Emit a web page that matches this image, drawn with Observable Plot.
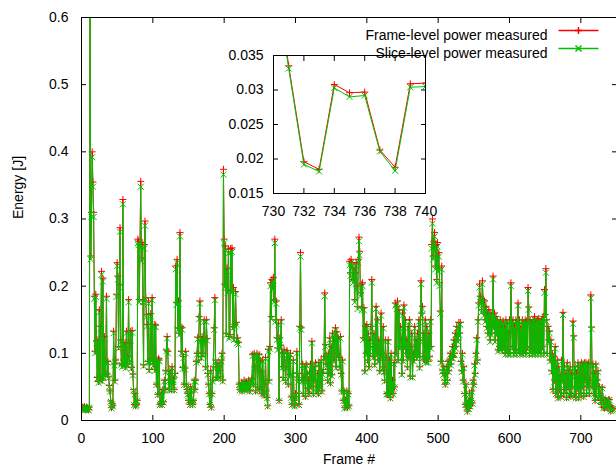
<!DOCTYPE html>
<html><head><meta charset="utf-8">
<script src="https://cdn.jsdelivr.net/npm/d3@7"></script>
<script src="https://cdn.jsdelivr.net/npm/@observablehq/plot@0.6"></script>
<style>
body{margin:0;background:#fff;}
#wrap{position:relative;width:616px;height:471px;overflow:hidden;font-family:"Liberation Sans",Arial,sans-serif;}
#wrap svg{position:absolute;}
</style></head><body><div id="wrap"></div>
<script>
// Energy per frame, in millijoules (index = frame number)
const frameLevel_mJ = [
18,20,17,19,21,16,18,20,19,17,
16,20,650,245,310,400,355,310,185,103,
188,118,64,120,58,165,62,140,222,60,
212,66,125,70,88,185,69,88,65,52,
44,29,19,25,22,133,84,60,90,188,
235,215,110,203,287,120,85,82,329,90,
84,116,80,133,84,95,180,88,115,133,
79,134,69,46,24,40,22,24,30,270,
267,180,262,356,242,265,180,83,262,297,
183,158,143,88,178,76,88,159,92,183,
88,84,143,76,142,54,90,39,92,90,
24,26,40,24,46,28,60,46,74,105,
125,103,60,46,74,60,46,80,54,62,
46,70,230,176,240,138,178,130,280,140,
103,138,79,95,54,78,103,54,46,40,
30,40,24,50,46,28,24,30,60,46,
60,88,100,124,90,155,178,120,95,125,
100,118,150,120,80,150,122,70,54,40,
24,74,20,40,60,80,138,183,90,64,
84,64,80,86,74,66,90,100,60,374,
270,203,260,130,227,194,255,125,128,256,
194,257,140,198,123,143,192,146,118,123,
116,54,46,50,56,44,54,48,60,46,
52,58,46,54,60,50,44,56,60,62,
98,54,100,80,44,96,100,50,90,98,
46,88,72,40,90,60,38,54,94,44,
34,22,106,60,110,205,155,210,200,213,
180,270,150,178,123,108,145,30,123,112,
150,80,100,64,106,90,60,80,104,100,
54,95,68,100,35,24,70,90,30,22,
40,35,103,70,60,24,140,250,138,60,
84,40,64,80,36,84,70,48,60,40,
72,84,50,118,64,40,80,60,86,50,
44,70,40,86,50,60,90,44,70,76,
95,190,113,84,96,60,100,70,123,56,
110,68,130,118,90,125,138,80,132,100,
123,94,80,125,70,44,90,30,44,19,
30,22,44,20,40,22,237,220,240,235,
215,210,228,180,220,235,200,170,240,273,
252,190,203,168,205,123,168,74,140,100,
143,90,130,80,120,100,140,210,110,95,
130,84,110,170,100,150,90,120,74,98,
160,100,80,140,74,60,120,94,40,40,
120,39,90,34,100,44,60,40,86,50,
175,100,170,178,90,165,110,140,120,70,
160,90,172,110,150,100,120,80,140,94,
150,66,110,130,66,100,90,140,100,120,
94,130,100,150,80,120,208,160,170,95,
130,90,150,88,140,110,88,130,95,150,
110,262,300,245,267,280,230,262,210,265,
227,250,205,163,88,230,75,70,80,60,
54,70,80,60,88,74,90,100,84,95,
110,94,120,100,130,110,140,125,120,146,
130,146,88,74,100,60,80,40,24,54,
20,14,30,18,40,22,30,44,26,60,
54,84,70,100,123,90,150,175,203,185,
180,165,208,180,160,178,150,170,140,160,
130,165,150,120,160,130,145,215,140,160,
120,155,130,150,105,145,110,150,108,140,
105,148,110,140,100,150,105,145,100,130,
150,100,205,145,110,150,100,140,105,150,
100,145,175,105,150,100,140,103,150,100,
145,105,150,100,148,110,198,169,100,150,
105,145,100,150,103,155,100,148,105,150,
100,152,105,145,100,150,110,155,100,195,
158,226,150,100,140,120,133,90,120,74,
100,46,95,60,110,40,74,90,34,80,
46,68,36,90,60,161,40,80,46,70,
34,86,50,74,40,80,36,68,50,148,
126,40,80,34,70,48,86,34,60,80,
40,86,50,84,36,86,60,86,40,84,
50,86,40,60,187,139,50,84,40,70,
30,84,40,60,74,34,50,40,30,24,
49,33.5,19.6,18.5,30.8,29.6,29.7,21.3,18.8,30.9,31.0,
22,14,20,16,18
];
const sliceLevel_mJ = [
17,19,16,18,20,15,17,19,18,16,
15,19,640,240,303,392,348,303,181,100,
184,115,62,117,56,161,60,137,217,58,
207,64,122,68,86,181,67,86,63,50,
43,28,18,24,21,130,82,58,88,184,
230,210,107,198,281,117,83,80,322,88,
82,113,78,130,82,93,176,86,112,130,
77,131,67,45,23,39,21,23,29,264,
261,176,256,348,237,259,176,81,256,290,
179,154,140,86,174,74,86,155,90,179,
86,82,140,74,139,53,88,38,90,88,
23,25,39,23,45,27,58,45,72,103,
122,100,58,45,72,58,45,78,53,60,
45,68,225,172,235,135,174,127,274,137,
100,135,77,93,53,76,100,53,45,39,
29,39,23,49,45,27,23,29,58,45,
58,86,98,121,88,151,174,117,93,122,
98,115,147,117,78,147,119,68,53,39,
23,72,19,39,58,78,135,179,88,62,
82,62,78,84,72,64,88,98,58,366,
264,198,254,127,222,190,249,122,125,250,
190,251,137,194,120,140,188,143,115,120,
113,53,45,49,55,43,53,47,58,45,
51,56,45,53,58,49,43,55,58,60,
96,53,98,78,43,94,98,49,88,96,
45,86,70,39,88,58,37,53,92,43,
33,21,103,58,107,200,151,205,195,208,
176,264,147,174,120,105,142,29,120,109,
147,78,98,62,103,88,58,78,101,98,
53,93,66,98,34,23,68,88,29,21,
39,34,100,68,58,23,137,244,135,58,
82,39,62,78,35,82,68,47,58,39,
70,82,49,115,62,39,78,58,84,49,
43,68,39,84,49,58,88,43,68,74,
93,185,110,82,94,58,98,68,120,55,
107,66,127,115,88,122,135,78,129,98,
120,92,78,122,68,43,88,29,43,18,
29,21,43,19,39,21,231,215,235,230,
210,205,223,176,215,230,195,166,235,267,
246,185,198,164,200,120,164,72,137,98,
140,88,127,78,117,98,137,205,107,93,
127,82,107,166,98,147,88,117,72,96,
156,98,78,137,72,58,117,92,39,39,
117,38,88,33,98,43,58,39,84,49,
171,98,166,174,88,161,107,137,117,68,
156,88,168,107,147,98,117,78,137,92,
147,64,107,127,64,98,88,137,98,117,
92,127,98,147,78,117,203,156,166,93,
127,88,147,86,137,107,86,127,93,147,
107,256,293,240,261,274,225,256,205,259,
222,244,200,159,86,225,73,68,78,58,
53,68,78,58,86,72,88,98,82,93,
107,92,117,98,127,107,137,122,117,143,
127,143,86,72,98,58,78,39,23,53,
19,13,29,17,39,21,29,43,25,58,
53,82,68,98,120,88,147,171,198,181,
176,161,203,176,156,174,147,166,137,156,
127,161,147,117,156,127,142,210,137,156,
117,151,127,147,103,142,107,147,105,137,
103,145,107,137,98,147,103,142,98,127,
147,98,200,142,107,147,98,137,103,147,
98,142,171,103,147,98,137,100,147,98,
142,103,147,98,145,107,193,165,98,147,
103,142,98,147,100,151,98,145,103,147,
98,148,103,142,98,147,107,151,98,190,
154,220,147,98,137,117,130,88,117,72,
98,45,93,58,107,39,72,88,33,78,
45,66,35,88,58,157,39,78,45,68,
33,84,49,72,39,78,35,66,49,144,
123,39,78,33,68,47,84,33,58,78,
39,84,49,82,35,84,58,84,39,82,
49,84,39,58,182,136,49,82,39,68,
29,82,39,58,72,33,49,39,29,23,
48,33.1,19.2,18.2,30.3,29.0,29.2,21.1,18.3,30.4,30.5,
21,14,19,15,17
];
const seriesNames = ["Frame-level power measured", "Slice-level power measured"];
const seriesColors = ["#ff0000", "#00c000"];
const xTicks = [0, 100, 200, 300, 400, 500, 600, 700];
const yTicks = [0, 0.1, 0.2, 0.3, 0.4, 0.5, 0.6];
const insetXTicks = [730, 732, 734, 736, 738, 740];
const insetYTicks = [0.015, 0.02, 0.025, 0.03, 0.035];
const xLabel = "Frame #";
const yLabel = "Energy [J]";

const frameRows = frameLevel_mJ.map((v, i) => ({frame: i, energy: v / 1000}));
const sliceRows = sliceLevel_mJ.map((v, i) => ({frame: i, energy: v / 1000}));

const FONT = '"Liberation Sans", Arial, sans-serif';
const plusSym = {draw(c) { const r = 3.5; c.moveTo(-r, 0); c.lineTo(r, 0); c.moveTo(0, -r); c.lineTo(0, r); }};
const timesSym = {draw(c) { const r = 3; c.moveTo(-r, -r); c.lineTo(r, r); c.moveTo(-r, r); c.lineTo(r, -r); }};
const segSym = {draw(c) { c.moveTo(-20, 0); c.lineTo(20, 0); }};
const fmt = d => String(+d.toFixed(4));

function seriesMarks() {
  return [
    Plot.line(frameRows, {x: "frame", y: "energy", stroke: seriesColors[0], strokeWidth: 1, clip: true}),
    Plot.dot(frameRows, {x: "frame", y: "energy", symbol: plusSym, stroke: seriesColors[0], fill: "none", strokeWidth: 1, clip: true}),
    Plot.line(sliceRows, {x: "frame", y: "energy", stroke: seriesColors[1], strokeWidth: 1, clip: true}),
    Plot.dot(sliceRows, {x: "frame", y: "energy", symbol: timesSym, stroke: seriesColors[1], fill: "none", strokeWidth: 1, clip: true})
  ];
}
function axesMarks(xt, yt, xPad, yPad) {
  return [
    Plot.axisX({anchor: "bottom", ticks: xt, tickSize: 0, tickPadding: xPad, tickFormat: fmt, label: null, fontSize: 14, fill: "#000"}),
    Plot.axisX({anchor: "bottom", ticks: xt, tickSize: -5, tickFormat: () => "", label: null, stroke: "#000"}),
    Plot.axisX({anchor: "top", ticks: xt, tickSize: -5, tickFormat: () => "", label: null, stroke: "#000"}),
    Plot.axisY({anchor: "left", ticks: yt, tickSize: 0, tickPadding: yPad, tickFormat: fmt, label: null, fontSize: 14, fill: "#000"}),
    Plot.axisY({anchor: "left", ticks: yt, tickSize: -5, tickFormat: () => "", label: null, stroke: "#000"}),
    Plot.axisY({anchor: "right", ticks: yt, tickSize: -5, tickFormat: () => "", label: null, stroke: "#000"}),
    Plot.frame({stroke: "#000", strokeWidth: 1})
  ];
}

const main = Plot.plot({
  width: 616, height: 471,
  marginLeft: 81, marginRight: 0, marginTop: 17, marginBottom: 51,
  style: {fontFamily: FONT, fontSize: "14px", background: "transparent", overflow: "visible"},
  x: {domain: [0, 750]},
  y: {domain: [0, 0.6]},
  marks: [
    ...seriesMarks(),
    ...axesMarks(xTicks, yTicks, 13, 13),
    Plot.text([yLabel], {frameAnchor: "left", dx: -63, rotate: -90, fontSize: 14, fill: "#000"}),
    Plot.text([xLabel], {frameAnchor: "bottom", dy: 43, fontSize: 14, fill: "#000"}),
    Plot.text([seriesNames[0]], {frameAnchor: "top-right", dx: -69, dy: 13, textAnchor: "end", fontSize: 14, fill: "#000"}),
    Plot.text([seriesNames[1]], {frameAnchor: "top-right", dx: -69, dy: 31, textAnchor: "end", fontSize: 14, fill: "#000"}),
    Plot.dot([seriesNames[0]], {frameAnchor: "top-right", dx: -38, dy: 13, symbol: segSym, stroke: seriesColors[0], fill: "none"}),
    Plot.dot([seriesNames[0]], {frameAnchor: "top-right", dx: -38, dy: 13, symbol: plusSym, stroke: seriesColors[0], fill: "none"}),
    Plot.dot([seriesNames[1]], {frameAnchor: "top-right", dx: -38, dy: 31, symbol: segSym, stroke: seriesColors[1], fill: "none"}),
    Plot.dot([seriesNames[1]], {frameAnchor: "top-right", dx: -38, dy: 31, symbol: timesSym, stroke: seriesColors[1], fill: "none"})
  ]
});
main.style.left = "0px"; main.style.top = "0px";

const inset = Plot.plot({
  width: 212, height: 173,
  marginLeft: 55, marginRight: 5, marginTop: 5, marginBottom: 30,
  style: {fontFamily: FONT, fontSize: "14px", background: "transparent", overflow: "visible"},
  x: {domain: [730, 740]},
  y: {domain: [0.015, 0.035]},
  marks: [
    ...seriesMarks(),
    ...axesMarks(insetXTicks, insetYTicks, 13, 10)
  ]
});
inset.style.left = "218px"; inset.style.top = "50px";

const wrap = document.getElementById("wrap");
wrap.appendChild(main);
wrap.appendChild(inset);
</script>
</body></html>
